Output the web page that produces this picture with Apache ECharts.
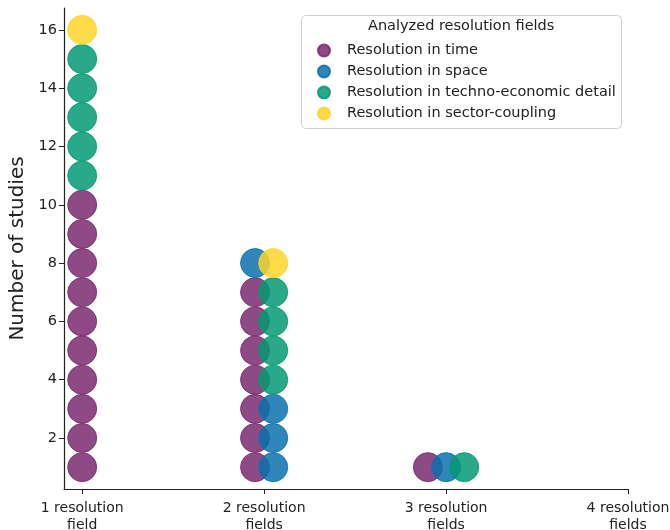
<!DOCTYPE html>
<html>
<head>
<meta charset="utf-8">
<script src="https://cdn.jsdelivr.net/npm/echarts@6/dist/echarts.min.js"></script>
<style>html,body{margin:0;padding:0;background:#fff}#c{width:670px;height:530px}</style>
</head>
<body>
<div id="c"></div>
<script>
// Categories on the x axis (number of resolution fields analysed)
const categories = ['1 resolution\nfield', '2 resolution\nfields', '3 resolution\nfields', '4 resolution\nfields'];
const yTicks = [2, 4, 6, 8, 10, 12, 14, 16];
const seriesNames = ['Resolution in time', 'Resolution in space', 'Resolution in techno-economic detail', 'Resolution in sector-coupling'];
const colors = ['#7a2a70', '#0a72ad', '#039a74', '#ffd52a'];

// Each point: [number of fields, lane within the group, study number]
const timePoints = [
  [1,0,1],[1,0,2],[1,0,3],[1,0,4],[1,0,5],[1,0,6],[1,0,7],[1,0,8],[1,0,9],[1,0,10],
  [2,0,1],[2,0,2],[2,0,3],[2,0,4],[2,0,5],[2,0,6],[2,0,7],
  [3,0,1]
];
const spacePoints = [
  [2,1,1],[2,1,2],[2,1,3],[2,0,8],
  [3,1,1]
];
const technoPoints = [
  [1,0,11],[1,0,12],[1,0,13],[1,0,14],[1,0,15],
  [2,1,4],[2,1,5],[2,1,6],[2,1,7],
  [3,2,1]
];
const sectorPoints = [
  [1,0,16],
  [2,1,8]
];

const laneStep = 0.1;
function place(points) {
  return points.map(([g, lane, s]) => [g + (lane - (g - 1) / 2) * laneStep, s]);
}
const allPoints = [timePoints, spacePoints, technoPoints, sectorPoints];

const chart = echarts.init(document.getElementById('c'));
const font = 'DejaVu Sans';
chart.setOption({
  animation: false,
  textStyle: { fontFamily: font },
  grid: { left: 64, top: 8, width: 564, height: 481, containLabel: false, outerBoundsMode: 'none' },
  xAxis: {
    type: 'value', min: 0.9, max: 4,
    splitLine: { show: false },
    axisLine: { show: true, onZero: false, lineStyle: { color: '#222', width: 1.2 } },
    axisTick: { show: true, length: 5, customValues: [1, 2, 3, 4], lineStyle: { color: '#222' } },
    axisLabel: {
      customValues: [1, 2, 3, 4], margin: 11,
      formatter: v => categories[Math.round(v) - 1] || '',
      fontSize: 14, color: '#222', lineHeight: 17, fontFamily: font
    }
  },
  yAxis: {
    type: 'value', min: 0.25, max: 16.75,
    name: 'Number of studies', nameLocation: 'middle', nameGap: 36,
    nameTextStyle: { fontSize: 20, color: '#222', fontFamily: font },
    splitLine: { show: false },
    axisLine: { show: true, onZero: false, lineStyle: { color: '#222', width: 1.2 } },
    axisTick: { show: true, length: 5, customValues: yTicks, lineStyle: { color: '#222' } },
    axisLabel: { customValues: yTicks, margin: 7, fontSize: 14.5, color: '#222', fontFamily: font }
  },
  legend: {
    orient: 'vertical', left: 312, top: 38,
    itemWidth: 20, itemHeight: 12, itemGap: 6, icon: 'circle',
    textStyle: { fontSize: 14.5, color: '#222', fontFamily: font, padding: [0, 0, 0, 8] },
    data: seriesNames
  },
  graphic: [
    { type: 'rect', left: 301, top: 15, shape: { width: 320, height: 113, r: 4 },
      style: { fill: 'rgba(255,255,255,0.8)', stroke: '#d0d0d0', lineWidth: 1 }, z: -1 },
    { type: 'text', left: 368, top: 19,
      style: { text: 'Analyzed resolution fields', fontSize: 14.5, fill: '#222', fontFamily: font } }
  ],
  series: allPoints.map((pts, i) => ({
    name: seriesNames[i],
    type: 'scatter',
    symbolSize: 29,
    data: place(pts),
    itemStyle: { color: colors[i], opacity: 0.85, borderColor: colors[i], borderWidth: 1 },
    z: 2 + i
  }))
});
</script>
</body>
</html>
